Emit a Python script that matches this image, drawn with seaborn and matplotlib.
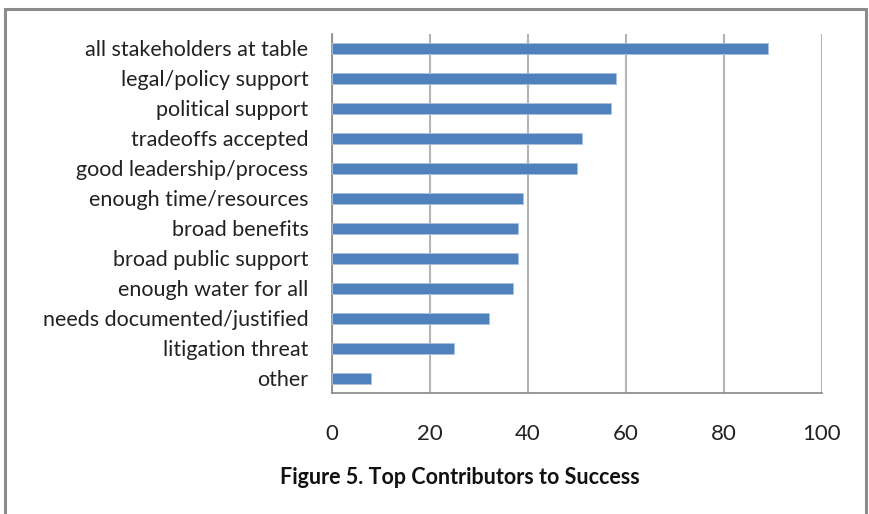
import matplotlib
matplotlib.use("Agg")
import matplotlib.pyplot as plt
import matplotlib.patches as mpatches
import seaborn as sns
import pandas as pd

categories = [
    "all stakeholders at table",
    "legal/policy support",
    "political support",
    "tradeoffs accepted",
    "good leadership/process",
    "enough time/resources",
    "broad benefits",
    "broad public support",
    "enough water for all",
    "needs documented/justified",
    "litigation threat",
    "other",
]
values = [89, 58, 57, 51, 50, 39, 38, 38, 37, 32, 25, 8]
x_ticks = [0, 20, 40, 60, 80, 100]
title = "Figure 5. Top Contributors to Success"

df = pd.DataFrame({"factor": categories, "count": values})

sns.set_theme(style="white")
plt.rcParams["font.family"] = ["Lato", "DejaVu Sans"]

fig = plt.figure(figsize=(8.69, 5.14), dpi=100)
ax = fig.add_axes([332 / 869, 1 - 393.3 / 514, (821.7 - 332) / 869, (393.3 - 33.5) / 514])

sns.barplot(data=df, x="count", y="factor", orient="h", color="#4F81BD",
            saturation=1, width=0.38, ax=ax, zorder=3,
            edgecolor="#A9C1E0", linewidth=0.6)

ax.set_xlim(0, 100)
ax.set_ylim(len(categories) - 0.5, -0.5)
ax.set_xticks(x_ticks)
ax.set_xticklabels([str(t) for t in x_ticks], fontsize=16, color="#222222")
ax.set_xlabel("")
ax.set_ylabel("")
ax.tick_params(axis="y", labelsize=15.5, colors="#222222", length=0, pad=17)

# Gridlines at each major x tick
ax.grid(axis="x", color="#B4B4B4", linewidth=1.5, zorder=0)
ax.grid(axis="y", visible=False)

for side in ("top", "right"):
    ax.spines[side].set_visible(False)
for side in ("left", "bottom"):
    ax.spines[side].set_color("#868686")
    ax.spines[side].set_linewidth(1.2)

ax.tick_params(axis="x", direction="out", length=5, width=1.2, color="#868686", pad=17)

# Tick marks between categories on the value axis
boundaries = [i - 0.5 for i in range(len(categories) + 1)]
ax.set_yticks(boundaries, minor=True)
ax.tick_params(axis="y", which="minor", direction="out", length=5, width=1.2, color="#868686")

fig.text(280 / 869, 1 - 478 / 514, title, fontsize=15.5, fontweight="bold",
         color="#111111", va="center", ha="left")

# Outer chart border
border = mpatches.Rectangle((5 / 869, -0.05), (866 - 5) / 869, (1 - 9 / 514) + 0.05,
                            transform=fig.transFigure, fill=False,
                            edgecolor="#8C8C8C", linewidth=2.2)
fig.patches.append(border)

fig.savefig("out.png", dpi=100)
